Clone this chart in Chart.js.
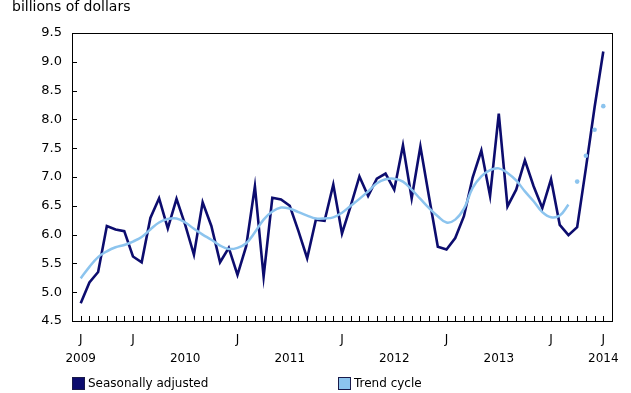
<!DOCTYPE html>
<html>
<head>
<meta charset="utf-8">
<script src="https://cdn.jsdelivr.net/npm/chart.js@4"></script>
<style>
  html, body { margin: 0; padding: 0; background: #fff; }
  #wrap { width: 631px; height: 393px; }
</style>
</head>
<body>
<div id="wrap"><canvas id="chart" width="631" height="393"></canvas></div>
<script>
// monthly, Jan 2009 (index 0) to Jan 2014 (index 60)
const seasonal = [
  4.81, 5.17, 5.35, 6.15, 6.09, 6.06, 5.62, 5.52, 6.29, 6.63, 6.11, 6.62,
  6.17, 5.65, 6.56, 6.15, 5.52, 5.77, 5.30, 5.80, 6.84, 5.27, 6.64, 6.61,
  6.50, 6.06, 5.59, 6.26, 6.24, 6.87, 6.02, 6.50, 7.01, 6.67, 6.97, 7.06,
  6.78, 7.55, 6.63, 7.53, 6.65, 5.79, 5.74, 5.94, 6.32, 6.99, 7.46, 6.67,
  8.10, 6.49, 6.78, 7.29, 6.84, 6.46, 6.96, 6.17, 5.99, 6.13, 7.15, 8.21,
  9.18
]
const trend = [
  5.24, 5.44, 5.61, 5.71, 5.78, 5.82, 5.88, 5.96, 6.09, 6.21, 6.27, 6.28,
  6.21, 6.10, 6.00, 5.91, 5.81, 5.75, 5.77, 5.85, 6.04, 6.26, 6.40, 6.47,
  6.45, 6.39, 6.33, 6.28, 6.28, 6.30, 6.38, 6.50, 6.62, 6.75, 6.89, 6.96,
  6.97, 6.92, 6.78, 6.62, 6.46, 6.32, 6.21, 6.26, 6.45, 6.81, 7.01, 7.12,
  7.15, 7.07, 6.94, 6.75, 6.58, 6.39, 6.30, 6.33, 6.52
]
// last trend points are shown as dots only
const trendEnd = [6.92, 7.37, 7.82, 8.23]

const jTicks = [0, 6, 18, 30, 42, 54, 60]
const years = ['2009', '2010', '2011', '2012', '2013', '2014']
const yTicks = [4.5, 5.0, 5.5, 6.0, 6.5, 7.0, 7.5, 8.0, 8.5, 9.0, 9.5]

const navy = '#0c0c6e'
const lightBlue = '#8cc4ee'
const font = 'DejaVu Sans'

const seasonalPts = seasonal.map((v, i) => ({ x: i, y: v }))
const trendPts = trend.map((v, i) => ({ x: i, y: v }))
const trendEndPts = trendEnd.map((v, i) => ({ x: trend.length + i, y: v }))

const frame = {
  id: 'frame',
  afterDraw(chart) {
    const ctx = chart.ctx
    const a = chart.chartArea
    const xs = chart.scales.x
    const ys = chart.scales.y
    ctx.save()
    ctx.strokeStyle = '#000'
    ctx.lineWidth = 1
    ctx.strokeRect(a.left + 0.5, a.top + 0.5, a.right - a.left, a.bottom - a.top)
    ctx.beginPath()
    for (let i = 0; i < seasonal.length; i++) {
      const px = Math.round(xs.getPixelForValue(i)) + 0.5
      ctx.moveTo(px, a.bottom)
      ctx.lineTo(px, a.bottom - 5)
    }
    for (const t of yTicks) {
      const py = Math.round(ys.getPixelForValue(t)) + 0.5
      ctx.moveTo(a.left, py)
      ctx.lineTo(a.left + 5, py)
    }
    ctx.stroke()

    // unit title
    ctx.fillStyle = '#000'
    ctx.font = '14px "' + font + '"'
    ctx.textBaseline = 'alphabetic'
    ctx.textAlign = 'left'
    ctx.fillText('billions of dollars', 12, 11)

    // legend
    const items = [
      { x: 72, label: 'Seasonally adjusted', fill: navy },
      { x: 338, label: 'Trend cycle', fill: lightBlue }
    ]
    ctx.font = '12px "' + font + '"'
    ctx.textBaseline = 'middle'
    for (const it of items) {
      ctx.fillStyle = it.fill
      ctx.fillRect(it.x, 377, 13, 13)
      ctx.strokeStyle = '#1a1a4a'
      ctx.strokeRect(it.x + 0.5, 377.5, 12, 12)
      ctx.fillStyle = '#000'
      ctx.fillText(it.label, it.x + 16, 384)
    }
    ctx.restore()
  }
}

new Chart(document.getElementById('chart'), {
  type: 'line',
  data: {
    datasets: [
      {
        label: 'Trend cycle',
        data: trendPts,
        borderColor: lightBlue,
        borderWidth: 2.5,
        pointRadius: 0,
        tension: 0.4,
        fill: false
      },
      {
        label: 'Trend cycle (end)',
        data: trendEndPts,
        showLine: false,
        pointRadius: 2.3,
        pointBackgroundColor: lightBlue,
        pointBorderWidth: 0
      },
      {
        label: 'Seasonally adjusted',
        data: seasonalPts,
        borderColor: navy,
        borderWidth: 2.6,
        pointRadius: 0,
        tension: 0,
        fill: false
      }
    ]
  },
  options: {
    responsive: false,
    animation: false,
    events: [],
    layout: { padding: { left: 0, right: 19, top: 33, bottom: 12 } },
    plugins: {
      legend: { display: false },
      tooltip: { enabled: false }
    },
    scales: {
      x: {
        type: 'linear',
        min: -1,
        max: 61,
        afterFit: s => { s.height = 60 },
        afterBuildTicks: s => {
          s.ticks = []
          for (let i = 0; i < seasonal.length; i++) s.ticks.push({ value: i })
        },
        border: { display: false },
        grid: { display: false, drawTicks: false },
        ticks: {
          autoSkip: false,
          maxRotation: 0,
          padding: 9,
          color: '#000',
          font: { family: font, size: 12, lineHeight: 1.6 },
          callback: v => {
            const j = jTicks.includes(v) ? 'J' : ''
            const y = v % 12 === 0 ? years[v / 12] : ''
            if (!j && !y) return ''
            return [j, y]
          }
        }
      },
      y: {
        min: 4.5,
        max: 9.5,
        afterFit: s => { s.width = 72 },
        afterBuildTicks: s => { s.ticks = yTicks.map(v => ({ value: v })) },
        border: { display: false },
        grid: { display: false, drawTicks: false },
        ticks: {
          padding: 10,
          color: '#000',
          font: { family: font, size: 13 },
          callback: v => v.toFixed(1)
        }
      }
    }
  },
  plugins: [frame]
})
</script>
</body>
</html>
